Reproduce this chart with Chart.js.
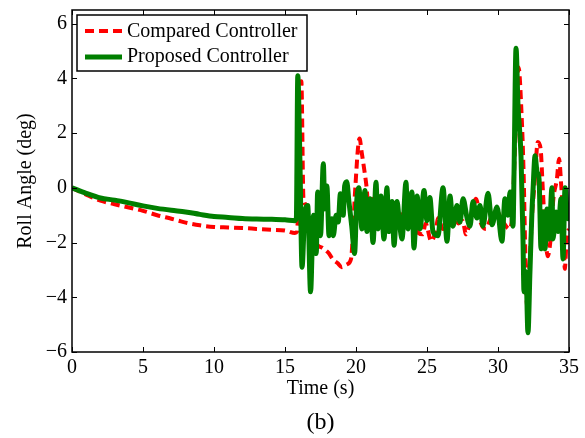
<!DOCTYPE html>
<html>
<head>
<meta charset="utf-8">
<script src="https://cdn.jsdelivr.net/npm/chart.js@4.4.1/dist/chart.umd.min.js"></script>
<style>
  html, body { margin: 0; padding: 0; background: #fff; }
  #wrap { width: 585px; height: 438px; }
</style>
</head>
<body>
<div id="wrap"><canvas id="rollChart" width="585" height="438"></canvas></div>
<script>
// Tick labels
const xTicks = [0, 5, 10, 15, 20, 25, 30, 35];
const yTicks = [-6, -4, -2, 0, 2, 4, 6];

// Compared controller (red dashed)
const comparedTime = [0, 1, 2, 3, 4, 5, 6, 7, 7.5, 8, 9, 10, 11, 12, 13, 14, 15, 15.7,
    15.85, 16.0, 16.15, 16.3, 16.45, 16.7, 17.0, 17.3, 17.65, 18.1, 18.35, 18.7, 19.0, 19.35, 19.65,
    19.8, 19.95, 20.25, 20.4, 20.6, 20.75, 20.9, 21.2, 21.5, 21.8, 22.1, 22.4, 22.8, 23.1, 23.4,
    23.7, 24.0, 24.4, 24.7, 24.9, 25.3, 25.6, 25.8, 26.1, 26.6, 26.9, 27.2, 27.5, 27.75, 28.1, 28.45,
    28.8, 29.15, 29.5, 29.9, 30.3, 30.8, 31.0, 31.2, 31.45, 31.65, 31.8, 31.95, 32.05, 32.2, 32.4,
    32.6, 32.8, 33.0, 33.15, 33.3, 33.5, 33.7, 33.9, 34.15, 34.3, 34.45, 34.6, 34.7, 34.85, 35];
const comparedRoll = [0, -0.25, -0.47, -0.6, -0.72, -0.84, -1.0, -1.13, -1.2, -1.27, -1.37, -1.43, -1.45, -1.47, -1.5, -1.53, -1.56, -1.65,
    -1.6, 1.0, 3.9, -0.4, -0.6, -1.2, -1.8, -2.1, -2.2, -2.4, -2.6, -2.75, -2.9, -2.8, -2.6,
    -1.5, 0.0, 1.8, 1.3, 0.6, 0.0, -0.9, -0.4, -1.2, -0.6, -1.0, -1.15, -0.7, -1.3, -0.8,
    -1.3, -0.9, -1.65, -1.7, -1.3, -1.95, -1.6, -1.1, -1.5, -1.4, -0.8, -1.3, -1.2, -1.7, -1.0, -0.4,
    -1.3, -1.5, -1.1, -0.85, -1.2, -1.5, -1.0, 1.5, 4.4, 2.8, 0.6, -3.0, -4.3, -3.1, -1.0,
    0.33, 1.68, 1.43, 0.0, -1.4, -2.5, -1.9, -0.4, 0.33, 1.06, 0.1, -1.25, -2.96, -1.75, -1.5];

// Proposed controller (green solid)
const proposedTime = [0, 1, 2, 3, 4, 5, 6, 7, 8, 9, 10, 11, 12, 13, 14, 15, 15.7,
    15.8, 15.9, 16.05, 16.2, 16.4, 16.6, 16.8, 17.0, 17.2, 17.3, 17.5, 17.7, 17.8, 17.95, 18.1,
    18.3, 18.4, 18.6, 18.75, 18.9, 19.1, 19.2, 19.35, 19.5, 19.7, 19.9, 20.05, 20.2, 20.42, 20.63,
    20.77, 20.99, 21.2, 21.41, 21.55, 21.76, 21.97, 22.18, 22.32, 22.54, 22.68, 22.89, 23.03, 23.24,
    23.52, 23.66, 23.94, 24.08, 24.3, 24.51, 24.79, 25.0, 25.2, 25.42, 25.77, 26.13, 26.41, 26.62, 26.83,
    27.11, 27.32, 27.54, 27.82, 28.03, 28.24, 28.52, 28.73, 28.94, 29.3, 29.58, 29.93, 30.28, 30.49,
    30.7, 30.85, 31.06, 31.13, 31.27, 31.41, 31.62, 31.76, 31.83, 31.97, 32.11, 32.25, 32.39, 32.46,
    32.61, 32.75, 32.89, 33.03, 33.17, 33.31, 33.45, 33.59, 33.8, 33.87, 34.08, 34.23, 34.44, 34.58,
    34.72, 34.93, 35];
const proposedRoll = [0, -0.2, -0.37, -0.45, -0.55, -0.66, -0.75, -0.82, -0.88, -0.97, -1.05, -1.08, -1.12, -1.14, -1.15, -1.17, -1.2,
    -1.1, 4.1, 1.0, -2.9, -0.85, -0.65, -3.8, -1.0, -2.4, -0.15, -1.75, 0.88, -0.77, 0.07, -1.75,
    -1.13, -1.75, -1.0, -1.25, -0.22, -1.0, 0.07, 0.22, -0.5, -1.4, -2.4, -0.5, 0.0, -1.5, -0.1,
    -1.6, -0.4, -2.0, 0.2, -1.5, -0.3, -1.87, 0.0, -1.6, -0.5, -2.1, -0.5, -1.1, -1.87,
    0.2, -1.5, -0.15, -2.2, -0.3, -1.5, -0.1, -1.2, -0.35, -1.6, -1.75, 0.0, -1.95, -0.3, -1.4,
    -0.65, -1.25, -0.4, -1.1, -1.4, -0.5, -1.1, -0.65, -1.4, -0.2, -1.35, -0.7, -1.95, -0.4,
    -1.0, -0.15, -1.4, 0.58, 5.1, 3.0, 1.17, -1.87, -3.8, -3.07, -5.3, -3.07, -0.88, -0.15,
    1.17, 0.58, 0.33, -2.23, -0.88, -2.23, -0.77, -1.87, 0.0, -1.87, -0.88, -1.6, -0.4, -2.6,
    0.0, -1.13, -1.0];

const FONT = '"Liberation Serif", "DejaVu Serif", serif';

function toPoints(ts, vs) {
    return ts.map((t, i) => ({ x: t, y: vs[i] }));
}

function minusLabel(v) {
    return v < 0 ? '\u2212' + Math.abs(v) : String(v);
}

// Matlab style box: frame, inward ticks, legend, caption
const matlabBox = {
    id: 'matlabBox',
    afterDatasetsDraw(chart) {
        const ctx = chart.ctx;
        const a = chart.chartArea;
        const xs = chart.scales.x, ys = chart.scales.y;
        ctx.save();
        ctx.strokeStyle = '#000';
        ctx.lineWidth = 1.5;
        ctx.strokeRect(a.left, a.top, a.right - a.left, a.bottom - a.top);

        ctx.lineWidth = 1;
        ctx.beginPath();
        xTicks.forEach(v => {
            const px = Math.round(xs.getPixelForValue(v)) + 0.5;
            ctx.moveTo(px, a.bottom); ctx.lineTo(px, a.bottom - 5);
            ctx.moveTo(px, a.top); ctx.lineTo(px, a.top + 5);
        });
        yTicks.forEach(v => {
            const py = Math.round(ys.getPixelForValue(v)) + 0.5;
            ctx.moveTo(a.left, py); ctx.lineTo(a.left + 5, py);
            ctx.moveTo(a.right, py); ctx.lineTo(a.right - 5, py);
        });
        ctx.stroke();

        // legend
        ctx.fillStyle = '#fff';
        ctx.fillRect(77, 15, 230, 56);
        ctx.lineWidth = 1.5;
        ctx.strokeStyle = '#000';
        ctx.strokeRect(77, 15, 230, 56);

        ctx.lineWidth = 4;
        ctx.strokeStyle = '#ff0000';
        ctx.setLineDash([9, 5]);
        ctx.beginPath(); ctx.moveTo(85, 31); ctx.lineTo(122, 31); ctx.stroke();
        ctx.setLineDash([]);
        ctx.lineWidth = 5;
        ctx.strokeStyle = '#007f00';
        ctx.beginPath(); ctx.moveTo(85, 57); ctx.lineTo(122, 57); ctx.stroke();

        ctx.fillStyle = '#000';
        ctx.font = '20px ' + FONT;
        ctx.textBaseline = 'middle';
        ctx.textAlign = 'left';
        ctx.fillText('Compared Controller', 127, 32);
        ctx.fillText('Proposed Controller', 127, 57);

        // panel caption
        ctx.font = '24px ' + FONT;
        ctx.textAlign = 'center';
        ctx.fillText('(b)', (a.left + a.right) / 2, 423);
        ctx.restore();
    }
};

const ctx = document.getElementById('rollChart').getContext('2d');
const rollChart = new Chart(ctx, {
    type: 'line',
    data: {
        datasets: [{
            label: 'Proposed Controller',
            data: toPoints(proposedTime, proposedRoll),
            borderColor: '#007f00',
            borderWidth: 5,
            pointRadius: 0,
            cubicInterpolationMode: 'monotone',
            order: 0
        }, {
            label: 'Compared Controller',
            data: toPoints(comparedTime, comparedRoll),
            borderColor: '#ff0000',
            borderWidth: 4,
            borderDash: [9, 5],
            pointRadius: 0,
            cubicInterpolationMode: 'monotone',
            order: 1
        }]
    },
    options: {
        responsive: false,
        animation: false,
        events: [],
        layout: {
            padding: { top: 10, right: 16, bottom: 0, left: 0 }
        },
        plugins: {
            legend: { display: false },
            tooltip: { enabled: false }
        },
        scales: {
            x: {
                type: 'linear',
                min: 0,
                max: 35,
                afterBuildTicks: scale => { scale.ticks = xTicks.map(v => ({ value: v })); },
                afterFit: scale => { scale.height = 86; scale.paddingLeft = 0; scale.paddingRight = 0; },
                grid: { display: false, drawTicks: false },
                border: { display: false },
                ticks: {
                    color: '#000',
                    padding: 4,
                    maxRotation: 0,
                    font: { family: FONT, size: 20 }
                },
                title: {
                    display: true,
                    text: 'Time (s)',
                    color: '#000',
                    font: { family: FONT, size: 20 },
                    padding: { top: 0, bottom: 37 }
                }
            },
            y: {
                type: 'linear',
                min: -6,
                max: 6.5,
                afterBuildTicks: scale => { scale.ticks = yTicks.map(v => ({ value: v })); },
                afterFit: scale => { scale.width = 72; scale.paddingTop = 0; scale.paddingBottom = 0; },
                grid: { display: false, drawTicks: false },
                border: { display: false },
                ticks: {
                    color: '#000',
                    padding: 5,
                    font: { family: FONT, size: 20 },
                    callback: v => minusLabel(v)
                },
                title: {
                    display: true,
                    text: 'Roll Angle (deg)',
                    color: '#000',
                    font: { family: FONT, size: 20 },
                    padding: { top: 14, bottom: 0 }
                }
            }
        }
    },
    plugins: [matlabBox]
});
</script>
</body>
</html>
